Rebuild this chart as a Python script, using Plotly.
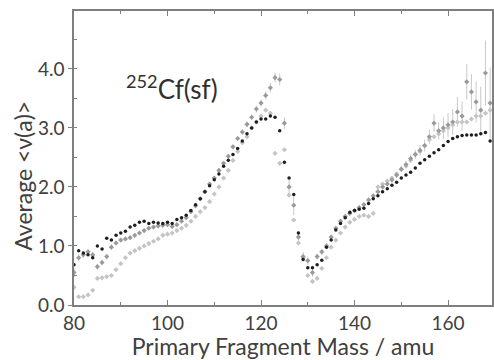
import plotly.graph_objects as go

mass = list(range(80, 170))

nu_black = [0.68, 0.92, 0.88, 0.85, 0.80, 1.00, 0.95, 1.13, 1.10, 1.18,
            1.22, 1.25, 1.32, 1.35, 1.40, 1.42, 1.38, 1.40, 1.39, 1.38,
            1.40, 1.38, 1.45, 1.48, 1.52, 1.60, 1.70, 1.80, 1.92, 2.02,
            2.12, 2.22, 2.35, 2.45, 2.55, 2.65, 2.78, 2.90, 3.00, 3.10,
            3.15, 3.15, 3.20, 3.18, 2.95, 2.42, 2.15, 1.87, 1.22, 0.77,
            0.63, 0.63, 0.68, 0.76, 0.98, 1.10, 1.27, 1.38, 1.48, 1.57,
            1.60, 1.62, 1.64, 1.72, 1.80, 1.85, 1.92, 1.97, 2.03, 2.08,
            2.15, 2.20, 2.25, 2.32, 2.40, 2.46, 2.52, 2.58, 2.63, 2.70,
            2.77, 2.82, 2.85, 2.87, 2.88, 2.88, 2.88, 2.90, 2.92, 2.78]

nu_exp = [0.55, 0.80, 0.85, 0.90, 0.85, 0.65, 0.72, 0.82, 0.98, 1.05,
          1.10, 1.12, 1.14, 1.18, 1.22, 1.26, 1.30, 1.32, 1.34, 1.35,
          1.36, 1.33, 1.36, 1.42, 1.48, 1.58, 1.68, 1.80, 1.92, 2.05,
          2.15, 2.28, 2.40, 2.52, 2.68, 2.82, 2.93, 3.06, 3.18, 3.32,
          3.42, 3.55, 3.68, 3.85, 3.82, 3.08, 2.00, 1.69, 1.15, 0.82,
          0.75, 0.55, 0.82, 0.90, 1.00, 1.15, 1.30, 1.42, 1.50, 1.55,
          1.60, 1.65, 1.70, 1.78, 1.85, 1.92, 2.00, 2.05, 2.12, 2.20,
          2.30, 2.38, 2.48, 2.55, 2.62, 2.70, 2.85, 3.08, 2.95, 3.00,
          3.05, 3.10, 3.27, 3.20, 3.78, 3.61, 3.44, 3.30, 3.93, 3.42]

err_exp = [0.08, 0.06, 0.05, 0.05, 0.05, 0.05, 0.05, 0.04, 0.04, 0.04,
           0.03, 0.03, 0.03, 0.03, 0.03, 0.03, 0.03, 0.03, 0.03, 0.03,
           0.03, 0.03, 0.03, 0.03, 0.03, 0.03, 0.03, 0.03, 0.03, 0.03,
           0.03, 0.03, 0.03, 0.04, 0.04, 0.04, 0.05, 0.05, 0.05, 0.06,
           0.06, 0.07, 0.08, 0.08, 0.10, 0.10, 0.12, 0.17, 0.10, 0.08,
           0.07, 0.07, 0.05, 0.05, 0.04, 0.04, 0.04, 0.03, 0.03, 0.03,
           0.03, 0.03, 0.03, 0.03, 0.03, 0.04, 0.04, 0.04, 0.05, 0.05,
           0.05, 0.06, 0.07, 0.08, 0.09, 0.10, 0.12, 0.15, 0.15, 0.18,
           0.20, 0.22, 0.25, 0.25, 0.30, 0.30, 0.35, 0.40, 0.55, 0.60]

nu_light = [0.30, 0.14, 0.14, 0.17, 0.25, 0.45, 0.46, 0.48, 0.50, 0.60,
            0.70, 0.80, 0.88, 0.92, 0.96, 1.00, 1.04, 1.08, 1.12, 1.18,
            1.20, 1.22, 1.26, 1.30, 1.35, 1.42, 1.50, 1.58, 1.65, 1.75,
            1.88, 2.00, 2.15, 2.28, 2.45, 2.60, 2.75, 2.85, 3.00, 3.10,
            3.20, 3.30, 3.25, 2.57, 2.40, 2.63, 1.86, 1.44, 1.05, 0.80,
            0.50, 0.40, 0.45, 0.62, 0.80, 0.98, 1.10, 1.22, 1.32, 1.40,
            1.45, 1.50, 1.52, 1.50, 1.55, 2.00, 2.05, 2.10, 2.15, 2.22,
            2.30, 2.35, 2.45, 2.55, 2.60, 2.70, 2.80, 2.85, 2.90, 2.95,
            3.00, 3.05, 3.10, 3.10, 3.10, 3.15, 3.20, 3.20, 3.25, 3.30]

x_ticks = [80, 100, 120, 140, 160]
y_ticks = [0.0, 1.0, 2.0, 3.0, 4.0]

FONT = "Lato"
TXT = "#404040"
AX = "#7f7f7f"

fig = go.Figure()
fig.add_trace(go.Scatter(
    x=mass, y=nu_light, mode="markers",
    marker=dict(size=4, color="#c4c4c4", symbol="diamond"),
    showlegend=False))
fig.add_trace(go.Scatter(
    x=mass, y=nu_exp, mode="markers",
    error_y=dict(type="data", array=err_exp, color="#c8c8c8", thickness=1, width=0),
    marker=dict(size=4, color="#9a9a9a", symbol="diamond"),
    showlegend=False))
fig.add_trace(go.Scatter(
    x=mass, y=nu_black, mode="markers",
    marker=dict(size=3.5, color="#1e1e1e"),
    showlegend=False))

fig.add_annotation(x=101.0, y=3.68, xref="x", yref="y",
                   text="<sup>252</sup>Cf(sf)", showarrow=False,
                   font=dict(family=FONT, size=26, color="#303030"))

fig.add_annotation(x=-0.124, y=0.44, xref="paper", yref="paper",
                   text="Average &lt;ν(a)&gt;", showarrow=False, textangle=-90,
                   xanchor="center", yanchor="middle",
                   font=dict(family=FONT, size=23, color=TXT))

fig.update_layout(
    width=494, height=360,
    margin=dict(l=74, r=0, t=11, b=55),
    paper_bgcolor="white", plot_bgcolor="white",
    font=dict(family=FONT, color=TXT),
)
fig.update_xaxes(
    range=[80, 169.4], tickvals=x_ticks, ticktext=[str(v) for v in x_ticks],
    ticks="inside", ticklen=5, tickcolor=AX, tickwidth=1,
    minor=dict(dtick=10, tick0=80, ticks="inside", ticklen=3, tickcolor=AX),
    showline=True, linecolor=AX, linewidth=1.5, mirror="allticks",
    showgrid=False, zeroline=False,
    tickfont=dict(size=19, color=TXT),
    title=dict(text="Primary Fragment Mass / amu", font=dict(size=23, color=TXT), standoff=3),
)
fig.update_yaxes(
    range=[0, 4.98], tickvals=y_ticks, ticktext=[f"{v:.1f}" for v in y_ticks],
    ticks="outside", ticklen=4, tickcolor=AX, tickwidth=1,
    minor=dict(dtick=0.5, tick0=0, ticks="inside", ticklen=3, tickcolor=AX),
    showline=True, linecolor=AX, linewidth=1.5, mirror=True,
    showgrid=False, zeroline=False,
    tickfont=dict(size=19, color=TXT),
)

fig.write_html("out.html")
